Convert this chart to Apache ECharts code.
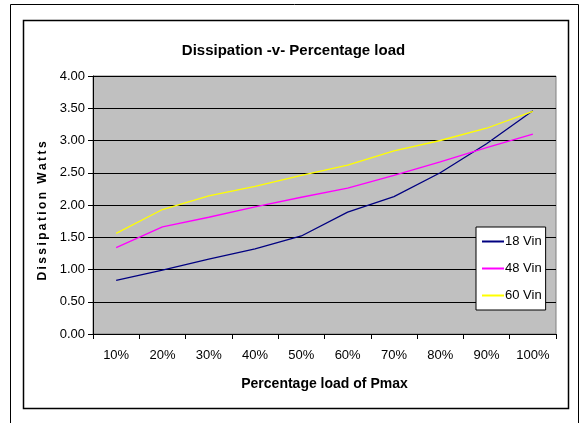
<!DOCTYPE html>
<html><head><meta charset="utf-8">
<script src="https://cdn.jsdelivr.net/npm/echarts@6/dist/echarts.min.js"></script>
<style>html,body{margin:0;padding:0;background:#fff;}#c{width:587px;height:423px;}</style>
</head><body><div id="c"></div>
<script>
const categories = ['10%','20%','30%','40%','50%','60%','70%','80%','90%','100%'];
const vin18 = [0.83,0.99,1.16,1.32,1.52,1.89,2.13,2.50,2.95,3.46];
const vin48 = [1.34,1.66,1.81,1.97,2.12,2.26,2.46,2.67,2.89,3.10];
const vin60 = [1.56,1.93,2.14,2.29,2.46,2.62,2.84,3.00,3.19,3.45];
const seriesNames = ['18 Vin','48 Vin','60 Vin'];
const FONT = '"Liberation Sans Narrow","Arial Narrow","Liberation Sans",Arial,sans-serif';
const yName = 'Dissipation Watts'.split('').join('\u2009');
const chart = echarts.init(document.getElementById('c'));
chart.setOption({
  animation:false,
  backgroundColor:'#fff',
  textStyle:{fontFamily:FONT,color:'#000'},
  title:{text:'Dissipation -v- Percentage load',left:'center',top:38,
    textStyle:{fontFamily:FONT,fontSize:15,fontWeight:'bold',color:'#000'}},
  graphic:[
    {type:'rect',shape:{x:10.5,y:4.5,width:568,height:430},style:{fill:null,stroke:'#000',lineWidth:1},silent:true},
    {type:'rect',shape:{x:23.5,y:20.5,width:545,height:388},style:{fill:null,stroke:'#000',lineWidth:1.5},silent:true}
  ],
  legend:{orient:'vertical',left:476,top:227,padding:[8,4,8,6],itemGap:14,
    backgroundColor:'#fff',borderColor:'#000',borderWidth:1,borderRadius:0,
    itemWidth:22,itemHeight:2,icon:'rect',
    textStyle:{fontFamily:FONT,fontSize:13,color:'#000',padding:[0,0,0,-4]},
    data:seriesNames},
  grid:{left:93,top:76,right:31,bottom:89,show:true,backgroundColor:'#C0C0C0',borderColor:'#808080',borderWidth:1},
  xAxis:{type:'category',data:categories,boundaryGap:true,
    name:'Percentage load of Pmax',nameLocation:'middle',nameGap:43,
    nameTextStyle:{fontFamily:FONT,fontSize:14,fontWeight:'bold',color:'#000'},
    axisLine:{lineStyle:{color:'#000',width:1}},
    axisTick:{show:true,alignWithLabel:false,length:5,lineStyle:{color:'#000'}},
    axisLabel:{fontFamily:FONT,fontSize:13,color:'#000',margin:15},
    splitLine:{show:false}},
  yAxis:{type:'value',min:0,max:4,interval:0.5,
    name:yName,nameLocation:'middle',nameGap:40,
    nameTextStyle:{fontFamily:FONT,fontSize:12,fontWeight:'bold',color:'#000',padding:[0,0,0,-12]},
    axisLine:{show:true,lineStyle:{color:'#000',width:1}},
    axisTick:{show:true,length:5,lineStyle:{color:'#000'}},
    axisLabel:{fontFamily:FONT,fontSize:13,color:'#000',margin:8,formatter:v=>v.toFixed(2)},
    splitLine:{show:true,lineStyle:{color:'#000',width:1}}},
  series:[
    {name:seriesNames[0],type:'line',data:vin18,showSymbol:false,symbol:'none',color:'#000080',lineStyle:{color:'#000080',width:1.3}},
    {name:seriesNames[1],type:'line',data:vin48,showSymbol:false,symbol:'none',color:'#FF00FF',lineStyle:{color:'#FF00FF',width:1.3}},
    {name:seriesNames[2],type:'line',data:vin60,showSymbol:false,symbol:'none',color:'#FFFF00',lineStyle:{color:'#FFFF00',width:1.3}}
  ]
});
</script></body></html>
